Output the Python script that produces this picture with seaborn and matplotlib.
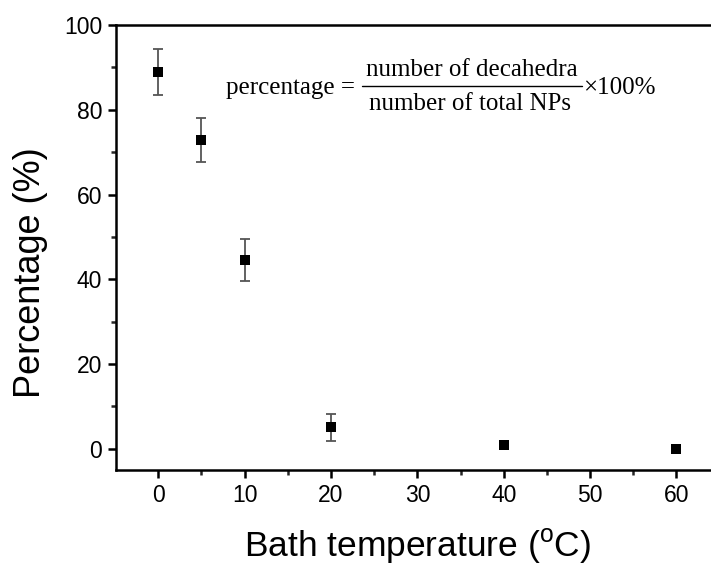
import matplotlib
matplotlib.use("Agg")
import matplotlib.pyplot as plt
import seaborn as sns
import numpy as np
import pandas as pd
from matplotlib.ticker import MultipleLocator
from matplotlib.lines import Line2D

temps = [0, 5, 10, 20, 40, 60]
percent = [88.9, 72.8, 44.5, 5.1, 0.8, 0.0]
errors = [5.4, 5.2, 5.0, 3.2, 0.0, 0.0]
xticks = [0, 10, 20, 30, 40, 50, 60]
yticks = [0, 20, 40, 60, 80, 100]

df = pd.DataFrame({"temp": temps, "pct": percent, "err": errors})

sns.set_theme(style="ticks")
plt.rcParams['font.family'] = ['Liberation Sans', 'DejaVu Sans']
plt.rcParams['text.color'] = 'black'
plt.rcParams['axes.labelcolor'] = 'black'

W, H = 711, 567
fig = plt.figure(figsize=(W/100, H/100), dpi=100)
ax = fig.add_axes([116/W, 97/H, 1 - 116/W, (470-25)/H])

ax.errorbar(df["temp"], df["pct"], yerr=df["err"], fmt="none", ecolor="#555555",
            elinewidth=1.3, capsize=3.4, capthick=1.3, zorder=2)
sns.scatterplot(data=df, x="temp", y="pct", marker="s", s=46, color="black",
                edgecolor="black", linewidth=0, ax=ax, zorder=3)

ax.set_xlim(-4.9, 64.0)
ax.set_ylim(-5, 100)
ax.set_xticks(xticks)
ax.set_yticks(yticks)
ax.xaxis.set_minor_locator(MultipleLocator(5))
ax.yaxis.set_minor_locator(MultipleLocator(10))
ax.tick_params(which="major", direction="out", length=6, width=1.8, labelsize=16.5,
               colors="black", pad=4)
ax.tick_params(which="minor", direction="out", length=3.5, width=1.8)
for s in ["left", "bottom", "top"]:
    ax.spines[s].set_linewidth(1.8)
    ax.spines[s].set_color("black")
ax.spines["right"].set_visible(False)

ax.set_xlabel(r"Bath temperature ($\mathregular{^o}$C)", fontsize=25.5, color="black")
ax.set_ylabel("Percentage (%)", fontsize=26, color="black")
ax.xaxis.set_label_coords((417.5 - 116) / 595, (470 - 527) / 445)
ax.yaxis.set_label_coords((48 - 116) / 595, (470 - 273) / 445)

# formula annotation (pixel positions in figure)
def fx(px):
    return px / W

def fy(py):
    return 1 - py / H

serif = "Liberation Serif"
fs = 18
fig.text(fx(226), fy(88), "percentage =", fontsize=fs, family=serif, ha="left", va="center")
fig.text(fx(472), fy(70), "number of decahedra", fontsize=fs, family=serif, ha="center", va="center")
fig.text(fx(470), fy(104), "number of total NPs", fontsize=fs, family=serif, ha="center", va="center")
fig.add_artist(Line2D([fx(362), fx(582)], [fy(86), fy(86)], color="black", lw=1.0,
                      transform=fig.transFigure))
fig.text(fx(583), fy(88), "\u00d7100%", fontsize=fs, family=serif, ha="left", va="center")

fig.savefig("out.png", dpi=100)
